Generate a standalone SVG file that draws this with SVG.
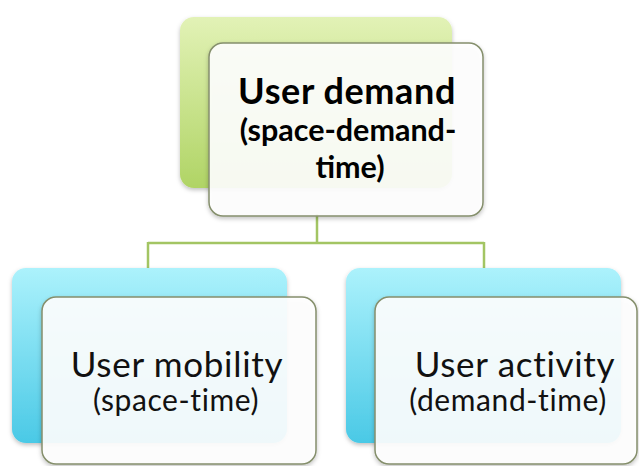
<svg xmlns="http://www.w3.org/2000/svg" width="639" height="466" viewBox="0 0 639 466">
  <defs>
    <linearGradient id="gGreen" x1="0" y1="0" x2="0" y2="1">
      <stop offset="0" stop-color="#e2f2b6"/>
      <stop offset="1" stop-color="#b0d465"/>
    </linearGradient>
    <linearGradient id="gBlue" x1="0" y1="0" x2="0" y2="1">
      <stop offset="0" stop-color="#acf2fc"/>
      <stop offset="1" stop-color="#4ac9e6"/>
    </linearGradient>
    <filter id="shadow" x="-10%" y="-10%" width="120%" height="125%">
      <feDropShadow dx="0" dy="2" stdDeviation="2" flood-color="#000" flood-opacity="0.25"/>
    </filter>
  </defs>
  <style>
    .back { filter: url(#shadow); }
    .front { fill: #ffffff; fill-opacity: 0.9; stroke: #858f6c; stroke-width: 1.5; filter: url(#shadow); }
    .conn { fill: none; stroke: #a3c563; stroke-width: 2.5; }
    .t { font-family: Lato, "Open Sans", "Liberation Sans", sans-serif; text-anchor: middle; fill: #000; }
    .b { font-weight: bold; }
    .s1 { font-size: 35px; letter-spacing: 0.7px; fill: #111; }
    .s2 { font-size: 30px; letter-spacing: 0.6px; fill: #111; }
  </style>
  <rect width="639" height="466" fill="#ffffff"/>
  <g id="connectors">
    <path class="conn" d="M317 214 V243 M148 243 H484 M148 242 V268 M484 242 V268"/>
  </g>
  <g id="node-user-demand">
    <rect class="back" x="180" y="17" width="272" height="171" rx="14" fill="url(#gGreen)"/>
    <rect class="front" x="209" y="43" width="274" height="173" rx="14"/>
    <text class="t b" x="347" y="104" font-size="36" letter-spacing="0.6">User demand</text>
    <text class="t b" x="348" y="141" font-size="30.5">(space-demand-</text>
    <text class="t b" x="350" y="178" font-size="30.5">time)</text>
  </g>
  <g id="node-user-mobility">
    <rect class="back" x="12" y="268" width="275" height="175" rx="14" fill="url(#gBlue)"/>
    <rect class="front" x="42" y="297" width="274" height="167" rx="14"/>
    <text class="t s1" x="177" y="377">User mobility</text>
    <text class="t s2" x="176" y="411">(space-time)</text>
  </g>
  <g id="node-user-activity">
    <rect class="back" x="346" y="268" width="275" height="175" rx="14" fill="url(#gBlue)"/>
    <rect class="front" x="375" y="297" width="262" height="167" rx="14"/>
    <text class="t s1" x="515" y="377">User activity</text>
    <text class="t s2" x="508" y="411">(demand-time)</text>
  </g>
</svg>
